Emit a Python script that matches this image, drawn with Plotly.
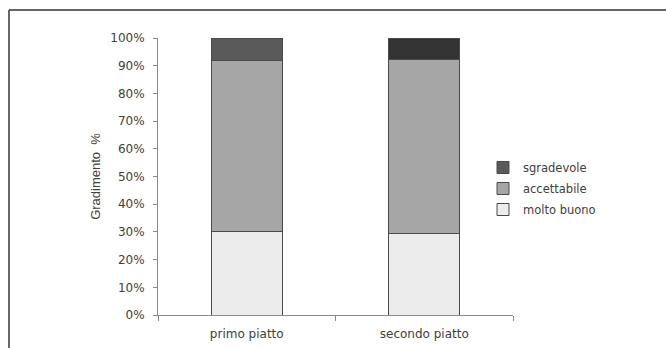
import plotly.graph_objects as go

# Gradimento dei piatti (valori percentuali)
piatti = ["primo piatto", "secondo piatto"]
molto_buono = [30.2, 29.5]
accettabile = [61.6, 62.8]
sgradevole = [8.2, 7.7]

W, H = 666, 348
L, R, T, B = 158, 153, 38, 33  # plot area margins in px

def px_x(p):
    return (p - L) / (W - L - R)

def px_y(p):
    return (H - B - p) / (H - T - B)

edge = "#4a4a4a"
fig = go.Figure()
fig.add_trace(go.Bar(x=piatti, y=molto_buono, name="molto buono",
                     legendgroup="a", legendrank=3,
                     marker=dict(color="#ececec", line=dict(color=edge, width=1))))
fig.add_trace(go.Bar(x=piatti, y=accettabile, name="accettabile",
                     legendgroup="b", legendrank=2,
                     marker=dict(color="#a6a6a6", line=dict(color=edge, width=1))))
fig.add_trace(go.Bar(x=piatti, y=sgradevole, name="sgradevole",
                     legendgroup="c", legendrank=1,
                     marker=dict(color=["#5a5a5a", "#333333"], line=dict(color=edge, width=1))))

txt = "#404040"
wide = "DejaVu Sans, Verdana, sans-serif"
fig.update_layout(
    template="none",
    width=W, height=H,
    barmode="stack", bargap=0.6,
    margin=dict(l=L, r=R, t=T, b=B, pad=0),
    paper_bgcolor="white", plot_bgcolor="white",
    font=dict(family=wide, size=11, color=txt),
    showlegend=True,
    legend=dict(x=px_x(483), y=px_y(153), xanchor="left", yanchor="top",
                traceorder="grouped", tracegroupgap=2,
                font=dict(family=wide, size=11.5, color=txt),
                bgcolor="rgba(0,0,0,0)", borderwidth=0),
    xaxis=dict(showline=True, linecolor="#8a8a8a", linewidth=1,
               ticks="outside", ticklen=5, tickcolor="#8a8a8a",
               tickson="boundaries", showgrid=False, zeroline=False,
               ticklabelstandoff=8,
               tickfont=dict(family=wide, size=12, color=txt)),
    yaxis=dict(range=[0, 100], dtick=10, ticksuffix="%",
               showline=True, linecolor="#8a8a8a", linewidth=1,
               ticks="outside", ticklen=4, tickcolor="#8a8a8a",
               showgrid=False, zeroline=False,
               ticklabelstandoff=6,
               tickfont=dict(family=wide, size=12, color=txt),
               title=dict(text="Gradimento  %", standoff=6,
                          font=dict(family="Liberation Sans, Arial, sans-serif",
                                    size=13, color=txt))),
)

# outer frame: top and left edges of the chart box
frame = dict(color="#333333", width=1.5)
fig.add_shape(type="line", xref="paper", yref="paper",
              x0=px_x(9), x1=px_x(W), y0=px_y(10), y1=px_y(10), line=frame)
fig.add_shape(type="line", xref="paper", yref="paper",
              x0=px_x(9), x1=px_x(9), y0=px_y(10), y1=px_y(H), line=frame)

fig.write_html("out.html")
